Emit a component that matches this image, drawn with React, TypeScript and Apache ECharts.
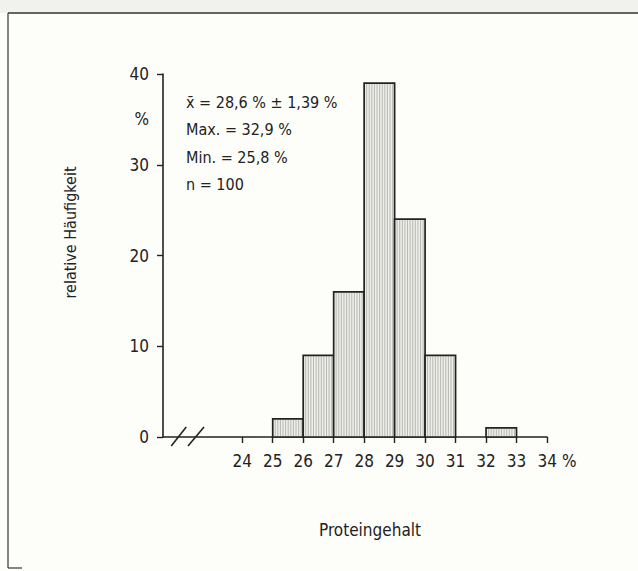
import React, { useEffect, useRef } from "react";
import * as echarts from "echarts";

const binStart = [25, 26, 27, 28, 29, 30, 32];
const binEnd = [26, 27, 28, 29, 30, 31, 33];
const freq = [2, 9, 16, 39, 24, 9, 1];
const xTickValues = [24, 25, 26, 27, 28, 29, 30, 31, 32, 33, 34];
const yTickValues = [0, 10, 20, 30, 40];
const yLabelValues = [0, 10, 20, 30, 35, 40];
const statLines = [
  "x\u0304 = 28,6 % \u00b1 1,39 %",
  "Max. = 32,9 %",
  "Min. = 25,8 %",
  "n = 100",
];
const xName = "Proteingehalt";
const yName = "relative H\u00e4ufigkeit";

const FONT = "'DejaVu Sans Condensed', 'Liberation Sans Narrow', 'Roboto', sans-serif";
const INK = "#222";

export default function App() {
  const ref = useRef<HTMLDivElement>(null);
  useEffect(() => {
    if (!ref.current) return;
    const chart = echarts.init(ref.current, undefined, { renderer: "svg" });
    const data = binStart.map((s, i) => [s, binEnd[i], freq[i]]);
    chart.setOption({
      animation: false,
      backgroundColor: "#fdfdf9",
      grid: { left: 163, right: 91, top: 74, bottom: 134 },
      xAxis: {
        type: "value",
        min: 21.4,
        max: 34,
        name: xName,
        nameLocation: "middle",
        nameGap: 84,
        nameTextStyle: { fontFamily: FONT, fontSize: 17, color: INK, padding: [0, 0, 0, 30] },
        splitLine: { show: false },
        axisLine: { show: true, lineStyle: { color: INK, width: 1.6 } },
        axisTick: { show: true, customValues: xTickValues, length: 6, lineStyle: { color: INK, width: 1.4 } },
        axisLabel: {
          customValues: xTickValues,
          margin: 15,
          fontFamily: FONT,
          fontSize: 17,
          color: INK,
          formatter: (v: number) => (v === 34 ? "{p|34 %}" : String(v)),
          rich: { p: { fontFamily: FONT, fontSize: 17, color: INK, padding: [0, 0, 0, 20] } },
        },
      },
      yAxis: {
        type: "value",
        min: 0,
        max: 40,
        interval: 10,
        name: yName,
        nameLocation: "middle",
        nameRotate: 90,
        nameGap: 85,
        nameTextStyle: { fontFamily: FONT, fontSize: 16, color: INK, padding: [0, 0, 0, 46] },
        splitLine: { show: false },
        axisLine: { show: true, lineStyle: { color: INK, width: 1.6 } },
        axisTick: { show: true, customValues: yTickValues, length: 6, lineStyle: { color: INK, width: 1.4 } },
        axisLabel: {
          customValues: yLabelValues,
          margin: 14,
          fontFamily: FONT,
          fontSize: 17,
          color: INK,
          formatter: (v: number) => (v === 35 ? "%" : String(v)),
        },
      },
      series: [
        {
          type: "custom",
          encode: { x: [0, 1], y: 2 },
          data,
          renderItem: (params: any, api: any) => {
            const x0 = api.value(0);
            const x1 = api.value(1);
            const v = api.value(2);
            const p0 = api.coord([x0, v]);
            const p1 = api.coord([x1, 0]);
            const w = p1[0] - p0[0];
            const h = p1[1] - p0[1];
            const children: any[] = [
              { type: "rect", shape: { x: p0[0], y: p0[1], width: w, height: h }, style: { fill: "#eeeeea", stroke: "none" } },
            ];
            for (let lx = p0[0] + 2.5; lx < p1[0] - 1.5; lx += 2.6) {
              children.push({
                type: "line",
                shape: { x1: lx, y1: p0[1] + 1, x2: lx, y2: p1[1] },
                style: { stroke: "#a0a09b", lineWidth: 0.7 },
              });
            }
            children.push({
              type: "rect",
              shape: { x: p0[0], y: p0[1], width: w, height: h },
              style: { fill: "none", stroke: INK, lineWidth: 1.7 },
            });
            return { type: "group", children };
          },
        },
      ],
    });
    const a = chart.convertToPixel({ gridIndex: 0 }, [21.9, 0]) as number[];
    const b = chart.convertToPixel({ gridIndex: 0 }, [22.45, 0]) as number[];
    const y0 = a[1];
    chart.setOption({
      graphic: [
        { type: "rect", shape: { x: 0, y: 0, width: 638, height: 13 }, style: { fill: "#f1f1ee" }, silent: true },
        { type: "line", shape: { x1: 8, y1: 13, x2: 638, y2: 13 }, style: { stroke: "#333", lineWidth: 1.5 } },
        { type: "line", shape: { x1: 8, y1: 13, x2: 8, y2: 568 }, style: { stroke: "#444", lineWidth: 1.3 } },
        { type: "line", shape: { x1: 8, y1: 568, x2: 22, y2: 568 }, style: { stroke: "#444", lineWidth: 1.3 } },
        { type: "line", shape: { x1: a[0] - 7, y1: y0 + 9, x2: a[0] + 8, y2: y0 - 10 }, style: { stroke: INK, lineWidth: 1.6 } },
        { type: "line", shape: { x1: b[0] - 7, y1: y0 + 9, x2: b[0] + 9, y2: y0 - 10 }, style: { stroke: INK, lineWidth: 1.6 } },
        ...statLines.map((t, i) => ({
          type: "text",
          left: 186,
          top: 94 + i * 27.5,
          style: { text: t, fontFamily: FONT, fontSize: 16, fill: INK },
        })),
      ],
    });
    return () => chart.dispose();
  }, []);
  return <div ref={ref} style={{ position: "absolute", left: 0, top: 0, width: 638, height: 571 }} />;
}
